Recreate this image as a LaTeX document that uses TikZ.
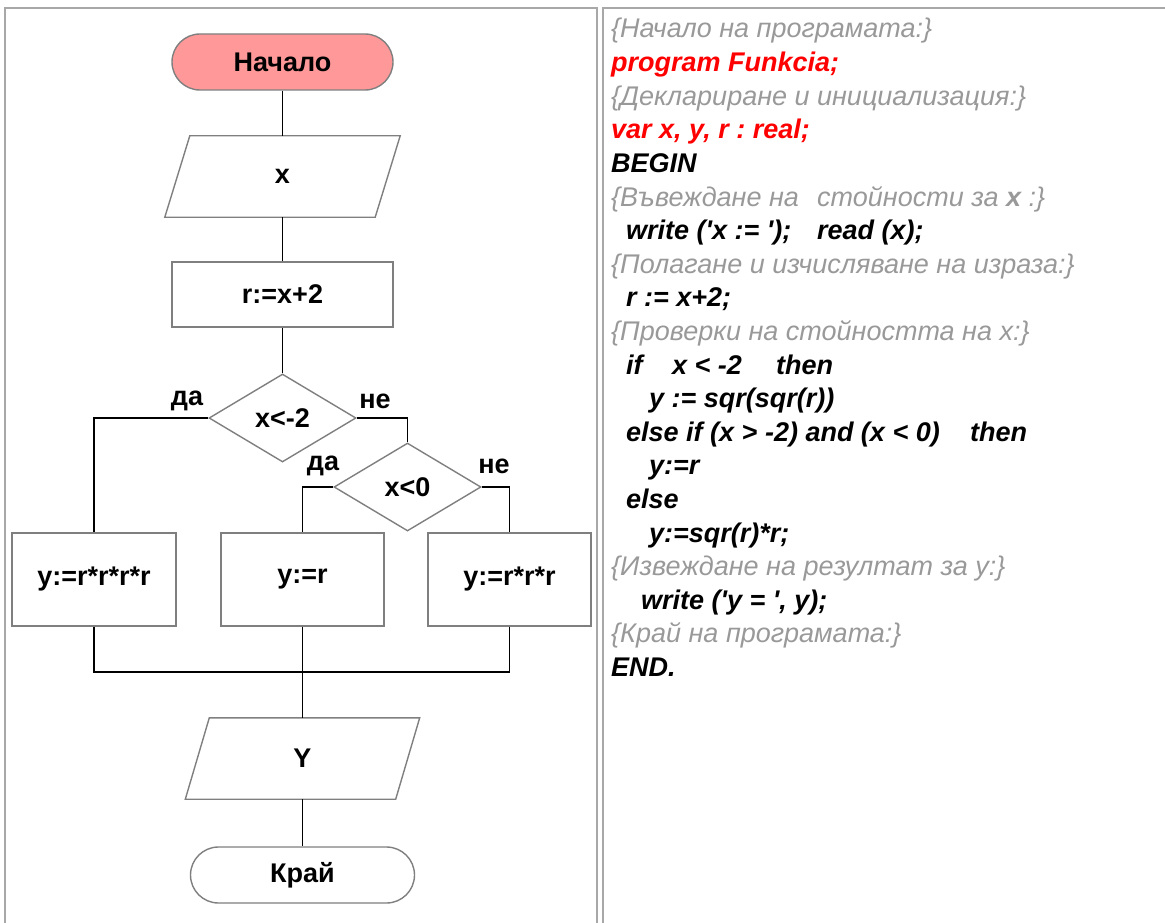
\documentclass[tikz,border=0pt]{standalone}
\usepackage{fontspec}
\setmainfont{Liberation Sans}
\newfontfamily\cyrfont{Liberation Sans}[Script=Cyrillic,Language=Bulgarian]
\usetikzlibrary{shapes.geometric}
\frenchspacing
\definecolor{shapegray}{HTML}{7F7F7F}
\definecolor{panelgray}{HTML}{A8A8A8}
\definecolor{startpink}{HTML}{FF9999}
\definecolor{cmtgray}{HTML}{999999}
\definecolor{codered}{HTML}{FF0000}
\newcommand\fcsize{\fontsize{27}{30}\selectfont}
\tikzset{
  shp/.style={draw=shapegray, line width=1.4pt},
  conn/.style={draw=black, line width=1.2pt},
  fctext/.style={inner sep=0pt, font=\fcsize\bfseries},
  procbox/.style={shp, fctext, rectangle},
  decbox/.style={shp, fctext, diamond, minimum width=147pt, minimum height=88pt},
  lbl/.style={fctext},
  codeA/.style={anchor=base west, inner sep=0pt, font=\fcsize\itshape},
  cmt/.style={codeA, text=cmtgray, font=\fcsize\itshape\cyrfont},
  kw/.style={codeA, font=\fcsize\bfseries\itshape},
  kwred/.style={kw, text=codered},
  panel/.style={draw=panelgray, line width=1.4pt},
}
\begin{document}
\begin{tikzpicture}[x=1pt,y=-1pt]
\useasboundingbox (0,0) rectangle (1165,923);
% panels
\draw[panel] (5,930) -- (5,8) -- (597,8) -- (597,930);
\draw[panel] (603,930) -- (603,8) -- (1170,8);
% flowchart
\node[shp, fctext, fill=startpink, rounded corners=28pt, minimum width=221pt, minimum height=56pt] (start) at (282.5,62) {Начало};
\node[fctext, minimum width=235pt, minimum height=81pt] (in) at (282.5,176.5) {x};
\draw[shp] ([xshift=25pt]in.north west) -- (in.north east) -- ([xshift=-25pt]in.south east) -- (in.south west) -- cycle;
\node[procbox, minimum width=221pt, minimum height=65pt] (calc) at (282.5,294.5) {r:=x+2};
\node[decbox] (d1) at (282.5,418) {x<-2};
\node[decbox] (d2) at (407.5,487) {x<0};
\node[procbox, minimum width=164pt, minimum height=93pt] (b1) at (94,579.5) {y:=r*r*r*r};
\node[procbox, minimum width=163pt, minimum height=93pt] (b2) at (302.5,579.5) {y:=r};
\node[procbox, minimum width=163pt, minimum height=93pt] (b3) at (509.5,579.5) {y:=r*r*r};
\coordinate (j) at (302.5,672);
\node[fctext, minimum width=234pt, minimum height=81pt] (out) at (302.5,758.5) {Y};
\draw[shp] ([xshift=24pt]out.north west) -- (out.north east) -- ([xshift=-24pt]out.south east) -- (out.south west) -- cycle;
\node[shp, fctext, fill=white, rounded corners=28pt, minimum width=224pt, minimum height=56pt] (end) at (302.5,875) {Край};
% labels
\node[lbl] (l1) at (187,401) {да};
\node[lbl] (l2) at (375,401) {не};
\node[lbl] (l3) at (323,466) {да};
\node[lbl] (l4) at (494,466) {не};
% connectors
\draw[conn] (start) -- (in);
\draw[conn] (in) -- (calc);
\draw[conn] (calc) -- (d1);
\draw[conn] (d1.west) -| (b1.north);
\draw[conn] (d1.east) -| (d2.north);
\draw[conn] (d2.west) -| (b2.north);
\draw[conn] (d2.east) -| (b3.north);
\draw[conn] (b1.south) |- (j);
\draw[conn] (b3.south) |- (j);
\draw[conn] (b2.south) -- (out.north);
\draw[conn] (out) -- (end);
% code
\node[cmt] (c1) at (611,38) {\{Начало на програмата:\}};
\node[kwred] (c2) at (611,71.6) {program Funkcia;};
\node[cmt] (c3) at (611,105.2) {\{Деклариране и инициализация:\}};
\node[kwred] (c4) at (611,138.8) {var x, y, r : real;};
\node[kw] (c5) at (611,172.4) {BEGIN};
\node[cmt] (c6a) at (611,206) {\{Въвеждане на};
\node[cmt] (c6b) at (817,206) {стойности за \textbf{x} :\}};
\node[kw] (c7a) at (626,239.6) {write (\textquotesingle x := \textquotesingle);};
\node[kw] (c7b) at (817,239.6) {read (x);};
\node[cmt] (c8) at (611,273.2) {\{Полагане и изчисляване на израза:\}};
\node[kw] (c9) at (626,306.8) {r := x+2;};
\node[cmt] (c10) at (611,340.4) {\{Проверки на стойността на x:\}};
\node[kw] (c11a) at (626,374) {if};
\node[kw] (c11b) at (672,374) {x < -2};
\node[kw] (c11c) at (776,374) {then};
\node[kw] (c12) at (649,407.6) {y := sqr(sqr(r))};
\node[kw] (c13a) at (626,441.2) {else if (x > -2) and (x < 0)};
\node[kw] (c13b) at (970,441.2) {then};
\node[kw] (c14) at (649,474.8) {y:=r};
\node[kw] (c15) at (626,508.4) {else};
\node[kw] (c16) at (649,542) {y:=sqr(r)*r;};
\node[cmt] (c17) at (611,575.6) {\{Извеждане на резултат за y:\}};
\node[kw] (c18) at (641,609.2) {write (\textquotesingle y = \textquotesingle, y);};
\node[cmt] (c19) at (611,642.8) {\{Край на програмата:\}};
\node[kw] (c20) at (611,676.4) {END.};
\end{tikzpicture}
\end{document}
